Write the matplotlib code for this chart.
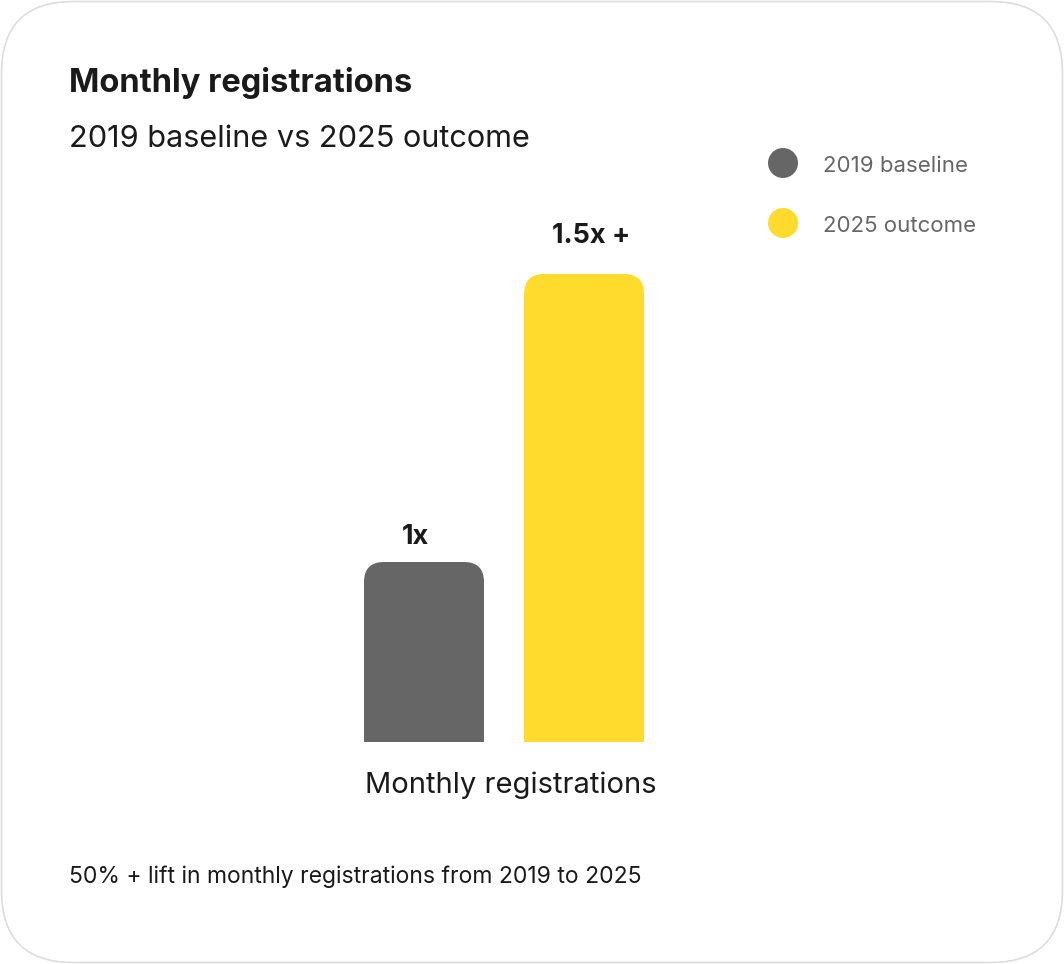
import matplotlib
matplotlib.use('Agg')
import matplotlib.pyplot as plt
from matplotlib.patches import FancyBboxPatch, Circle
from matplotlib.transforms import IdentityTransform, ScaledTranslation

plt.rcParams['font.family'] = ['Inter', 'DejaVu Sans']

# datos
categoria = 'Monthly registrations'
series = ['2019 baseline', '2025 outcome']
valores = [1.0, 1.5]
etiquetas = ['1x', '1.5x +']
colores = ['#666666', '#FFDB2E']
titulo = 'Monthly registrations'
subtitulo = '2019 baseline vs 2025 outcome'
nota = '50% + lift in monthly registrations from 2019 to 2025'

W, H = 1064, 964
fig = plt.figure(figsize=(W / 100, H / 100), dpi=100)
fig.patch.set_facecolor('white')

# tarjeta con bordes redondeados (en pixeles)
card = FancyBboxPatch((1.5, 1.5), W - 3, H - 3, boxstyle='round,pad=0,rounding_size=72',
                      transform=IdentityTransform(), facecolor='white', edgecolor='#dddddd',
                      linewidth=1.2, zorder=-10)
fig.patches.append(card)

def fx(px):
    return px / W

def fy(py):
    return 1 - py / H

# titulo, subtitulo y nota
fig.text(fx(69), fy(92), titulo, fontsize=23.5, fontweight='bold', color='#1a1a1a', va='baseline')
fig.text(fx(69), fy(147), subtitulo, fontsize=22.1, color='#1a1a1a', va='baseline')
fig.text(fx(69), fy(883), nota, fontsize=16.5, color='#1a1a1a', va='baseline')

# leyenda
for i, (nombre, c) in enumerate(zip(series, colores)):
    cy = 163 + i * 60
    fig.patches.append(Circle((783, H - cy), 15, transform=IdentityTransform(),
                              facecolor=c, edgecolor='none'))
    fig.text(fx(823), fy(cy + 9), nombre, fontsize=16, color='#666666', va='baseline')

# grafico de barras
ax = fig.add_axes([296 / W, 222 / H, 416 / W, 540 / H])
y0 = 0.6875
ax.set_ylim(y0, 1.625)
ax.set_xlim(-1.3, 1.3)

ancho = 0.75
xs = [-0.5, 0.5]
rx = 0.125
ry = 20 / 576
for x, v, c in zip(xs, valores, colores):
    ax.bar(x, v - y0 - ry, bottom=y0, width=ancho, color=c, linewidth=0)
    ax.add_patch(FancyBboxPatch((x - ancho / 2, y0), ancho, v - y0,
                                boxstyle=f'round,pad=0,rounding_size={rx}',
                                mutation_aspect=ry / rx, facecolor=c, edgecolor='none'))

desplaz = [(-6, 13), (5, 22)]
for x, v, t, d in zip(xs, valores, etiquetas, desplaz):
    ax.annotate(t, (x, v), xytext=d, textcoords='offset points', ha='center', va='baseline',
                fontsize=19.5, fontweight='bold', color='#1a1a1a')

ax.set_xticks([0], [categoria])
ax.tick_params(axis='x', length=0, pad=21.5, labelsize=21, labelcolor='#1a1a1a')
# pequeño corrimiento de la etiqueta de categoria, como en el original
corr = ScaledTranslation(7 / 100, 0, fig.dpi_scale_trans)
for lbl in ax.get_xticklabels():
    lbl.set_transform(lbl.get_transform() + corr)
ax.set_yticks([])
for s in ax.spines.values():
    s.set_visible(False)
ax.patch.set_alpha(0)

fig.savefig('out.png', dpi=100)
